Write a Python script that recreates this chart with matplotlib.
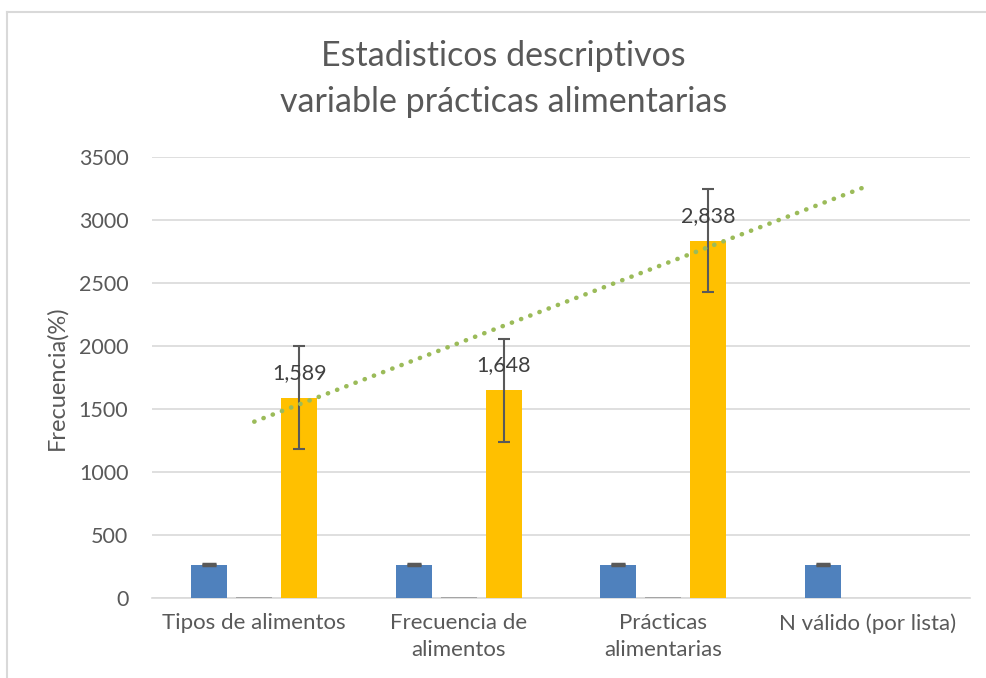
import numpy as np
import matplotlib
matplotlib.use("Agg")
import matplotlib.pyplot as plt
from matplotlib.lines import Line2D

categories = ["Tipos de alimentos", "Frecuencia de\nalimentos", "Prácticas\nalimentarias", "N válido (por lista)"]
n_validos = [266, 266, 266, 266]          # serie azul
minimos = [6, 6, 6, None]                 # serie gris (casi cero)
medias = [1589, 1648, 2838, None]         # serie amarilla
err_n = [3, 3, 3, 3]
err_medias = [409, 409, 409, None]
labels_medias = ["1,589", "1,648", "2,838"]

gray_txt = "#595959"
plt.rcParams["font.family"] = ["Lato", "DejaVu Sans"]

fig = plt.figure(figsize=(9.87, 6.78), dpi=100)
ax = fig.add_axes([0.154, 0.118, 0.829, 0.650])

x = np.arange(len(categories))
w = 0.176
off = 0.22

ax.bar(x - off, n_validos, w, color="#4f81bd", zorder=3)
ax.errorbar(x - off, n_validos, yerr=err_n, fmt="none", ecolor=gray_txt, elinewidth=1.2, capsize=5, capthick=2.5, zorder=4)

xm = [xi for xi, v in zip(x, minimos) if v is not None]
vm = [v for v in minimos if v is not None]
ax.bar(xm, vm, w, color="#a5a5a5", zorder=3)

xy = np.array([xi for xi, v in zip(x, medias) if v is not None])
vy = np.array([v for v in medias if v is not None])
ey = [e for e in err_medias if e is not None]
ax.bar(xy + off, vy, w, color="#ffc000", zorder=3)
ax.errorbar(xy + off, vy, yerr=ey, fmt="none", ecolor=gray_txt, elinewidth=1.5, capsize=4, capthick=1.5, zorder=4)

for xi, v, t in zip(xy + off, vy, labels_medias):
    ax.annotate(t, (xi, v), xytext=(0, 18), textcoords="offset points", ha="center", va="center",
                fontsize=15.5, color="#404040", zorder=5)

# linea de tendencia lineal de la serie amarilla
coef = np.polyfit(xy + 1, vy, 1)
xt = np.array([1, len(categories)])
ax.plot(xt - 1, np.polyval(coef, xt), color="#9bbb59", lw=3.3, linestyle=(0, (0.05, 2.1)),
        dash_capstyle="round", zorder=6)

ax.set_xlim(-0.5, len(categories) - 0.5)
ax.set_ylim(0, 3500)
ax.set_yticks(np.arange(0, 3501, 500))
ax.set_xticks(x)
ax.set_xticklabels(categories, fontsize=16, color=gray_txt, linespacing=1.45)
ax.tick_params(axis="y", labelsize=15.5, labelcolor=gray_txt, length=0, pad=17)
ax.tick_params(axis="x", length=0, pad=11)
ax.grid(axis="y", color="#d9d9d9", lw=1.2, zorder=0)
for s in ["top", "right", "left"]:
    ax.spines[s].set_visible(False)
ax.spines["bottom"].set_color("#d9d9d9")
ax.spines["bottom"].set_linewidth(1.2)
ax.set_ylabel("Frecuencia(%)", fontsize=17, color=gray_txt, labelpad=8)

fig.text(0.51, 0.8835, "Estadisticos descriptivos\nvariable prácticas alimentarias", ha="center", va="center",
         fontsize=24.5, color=gray_txt, linespacing=1.56)

# marco del area del grafico
fig.add_artist(Line2D([7 / 987, 7 / 987], [0, 1 - 12 / 678], transform=fig.transFigure, color="#d9d9d9", lw=1.5))
fig.add_artist(Line2D([7 / 987, 1], [1 - 12 / 678, 1 - 12 / 678], transform=fig.transFigure, color="#d9d9d9", lw=1.5))

fig.savefig("out.png", dpi=100)
